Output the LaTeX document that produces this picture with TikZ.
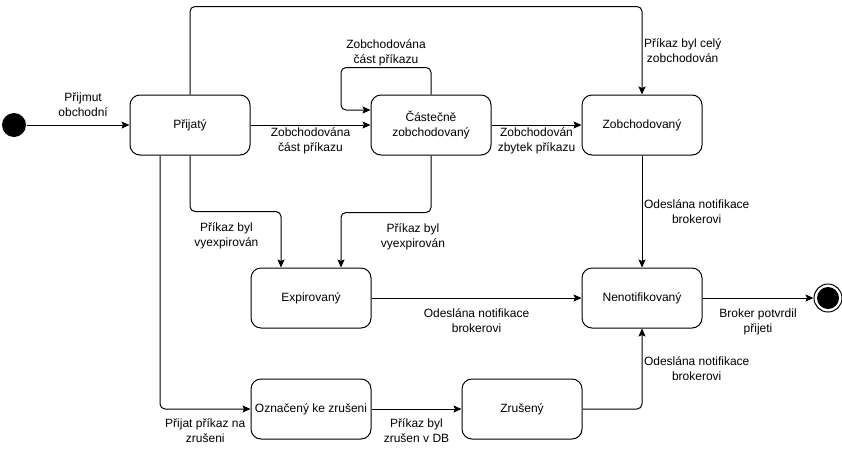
\documentclass[tikz,border=0pt]{standalone}
\usepackage{fontspec}
\setmainfont{Liberation Sans}
\usetikzlibrary{arrows.meta, positioning}

\begin{document}
\begin{tikzpicture}[x=1pt,y=-1pt,->,>={Stealth[length=8pt,width=7pt,inset=1.5pt]},
  line width=1pt, rounded corners=5pt, node distance=90pt,
  font=\fontsize{12}{15}\selectfont,
  state/.style={rectangle, draw, rounded corners=10pt, minimum width=120pt,
  minimum height=60pt, align=center, inner sep=2pt},
  startstate/.style={circle, fill, minimum size=24pt, inner sep=0pt},
  endstate/.style={circle, draw, minimum size=28pt, inner sep=0pt,
  path picture={\fill[-] (path picture bounding box.center) circle (11pt);}},
  lbl/.style={align=center, inner sep=1.5pt}]
  \useasboundingbox (0,0) rectangle (842,461);

  \node[state] (accepted) at (190,125) {Přijatý};
  \node[state] (partial) [right=120pt of accepted] {Částečně\\zobchodovaný};
  \node[state] (traded) [right=of partial] {Zobchodovaný};
  \node[state] (expired) [below right=112pt and 0pt of accepted] {Expirovaný};
  \node[state] (notified) [below=112pt of traded] {Nenotifikovaný};
  \node[state] (tocancel) [below=50pt of expired] {Označený ke zrušeni};
  \node[state] (cancelled) [right=of tocancel] {Zrušený};
  \node[startstate] (start) [left=103pt of accepted] {};
  \node[endstate] (end) [right=111pt of notified] {};

  % top row
  \draw (start) -- node[lbl, above, pos=0.55, yshift=6pt] {Přijmut\\obchodní} (accepted);
  \draw (accepted) -- node[lbl, below, yshift=-1pt] {Zobchodována\\část příkazu} (partial);
  \draw (partial) -- node[lbl, below, yshift=-1pt] {Zobchodován\\zbytek příkazu} (traded);
  \draw (partial.north) -- ++(0,-27) -- node[lbl, above] {Zobchodována\\část příkazu}
    ++(-90,0) |- ([yshift=15pt]partial.west);
  \draw (accepted.north) -- ++(0,-88) -| node[lbl, right, pos=0.75]
    {Příkaz byl celý\\zobchodován} (traded.north);
  \draw (traded) -- node[lbl, right] {Odeslána notifikace\\brokerovi} (notified);
  % expiration
  \draw (accepted.south) -- ++(0,56) -| node[lbl, below, pos=0.2, yshift=-9pt]
    {Příkaz byl\\vyexpirován} ([xshift=-30pt]expired.north);
  \draw (partial.south) -- ++(0,57) -| node[lbl, below, pos=0.1, yshift=-9pt]
    {Příkaz byl\\vyexpirován} ([xshift=30pt]expired.north);
  \draw (expired) -- node[lbl, below, yshift=-9pt] {Odeslána notifikace\\brokerovi} (notified);
  % cancellation
  \draw ([xshift=-30pt]accepted.south) |- node[lbl, below, pos=0.75, yshift=-8pt]
    {Přijat příkaz na\\zrušeni} (tocancel);
  \draw (tocancel) -- node[lbl, below, yshift=-8pt] {Příkaz byl\\zrušen v DB} (cancelled);
  \draw (cancelled) -| node[lbl, right, pos=0.75]
    {Odeslána notifikace\\brokerovi} (notified);
  \draw (notified) -- node[lbl, below, yshift=-9pt] {Broker potvrdil\\přijeti} (end);
\end{tikzpicture}
\end{document}
